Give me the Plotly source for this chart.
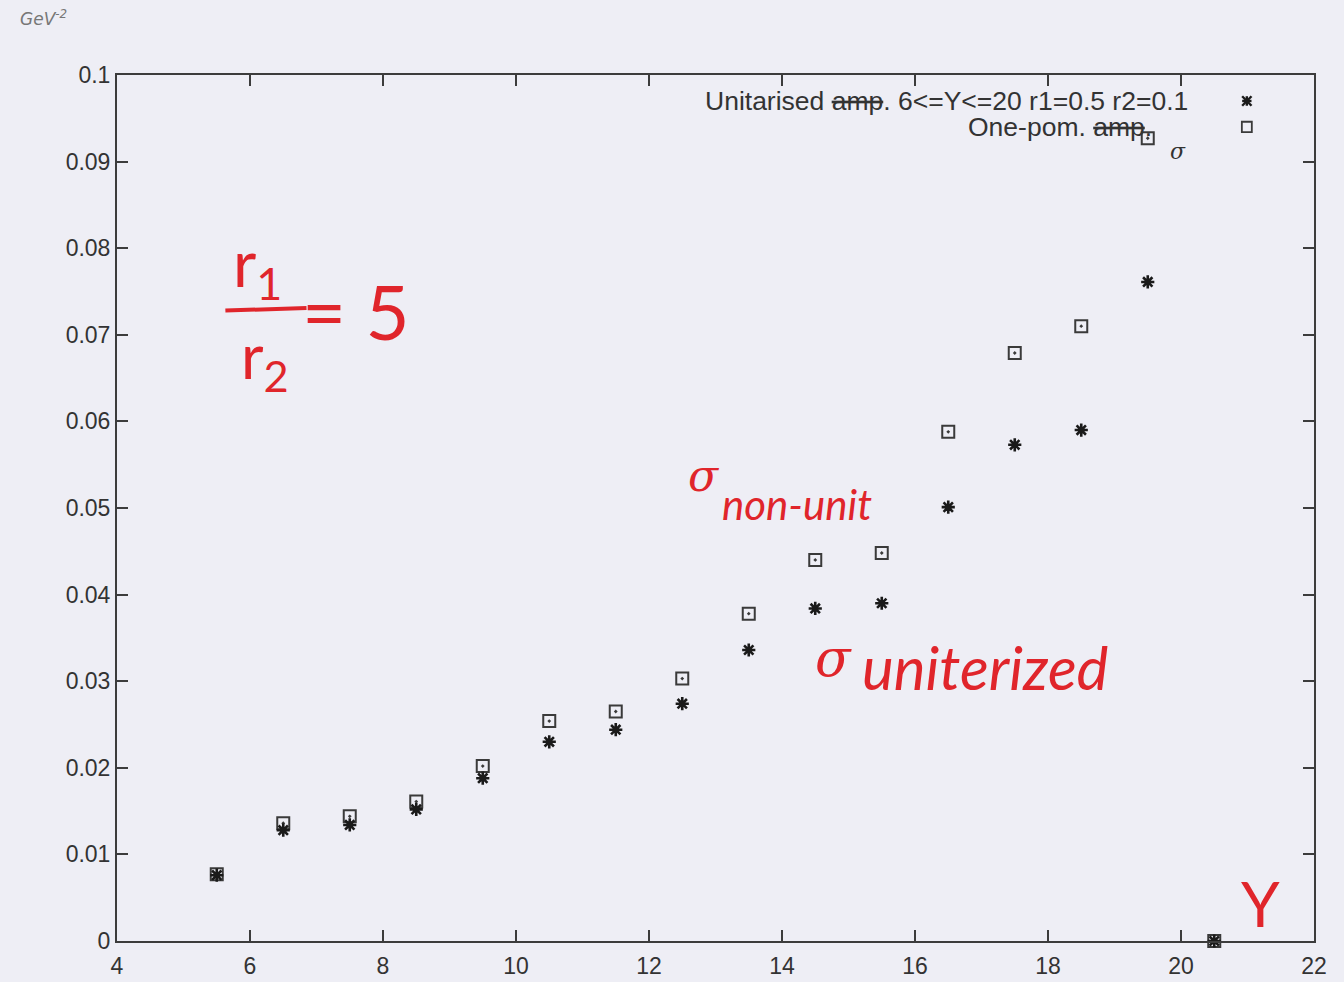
import plotly.graph_objects as go

# ---- data ----
Y_vals = [5.5, 6.5, 7.5, 8.5, 9.5, 10.5, 11.5, 12.5, 13.5, 14.5, 15.5, 16.5, 17.5, 18.5, 19.5, 20.5]
sigma_unitarised = [0.0076, 0.0128, 0.0134, 0.0152, 0.0188, 0.0230, 0.0244, 0.0274,
                    0.0336, 0.0384, 0.0390, 0.0501, 0.0573, 0.0590, 0.0761, 0.0]
sigma_one_pom = [0.0077, 0.0136, 0.0144, 0.0161, 0.0202, 0.0254, 0.0265, 0.0303,
                 0.0378, 0.0440, 0.0448, 0.0588, 0.0679, 0.0710, 0.0927, 0.0]

x_ticks = [4, 6, 8, 10, 12, 14, 16, 18, 20, 22]
y_ticks = [0, 0.01, 0.02, 0.03, 0.04, 0.05, 0.06, 0.07, 0.08, 0.09, 0.1]
y_tick_text = ["0", "0.01", "0.02", "0.03", "0.04", "0.05", "0.06", "0.07", "0.08", "0.09", "0.1"]

legend_unit = "Unitarised <s>amp</s>. 6<=Y<=20 r1=0.5 r2=0.1"
legend_one = "One-pom. <s>amp</s>."

BG = "#eeeef5"
RED = "#e0252b"

fig = go.Figure()
fig.add_trace(go.Scatter(
    x=Y_vals, y=sigma_one_pom, mode="markers", name="One-pom. amp.",
    marker=dict(symbol="square-open-dot", size=12, color="#3a3a3a", line=dict(width=2, color="#3a3a3a")),
    cliponaxis=False, showlegend=False))
fig.add_trace(go.Scatter(
    x=Y_vals, y=sigma_unitarised, mode="markers", name="Unitarised",
    marker=dict(symbol="asterisk-open", size=11, color="#1a1a1a", line=dict(width=2.6, color="#1a1a1a")),
    cliponaxis=False, showlegend=False))

axis_common = dict(showgrid=False, zeroline=False, ticks="inside", mirror="ticks",
                   showline=True, linecolor="#3c3c3c", linewidth=2, tickcolor="#3c3c3c",
                   ticklen=11, tickwidth=1.6, automargin=False,
                   tickfont=dict(family="Liberation Sans, Arial", size=23, color="#333"))
fig.update_xaxes(range=[4, 22], tickvals=x_ticks, ticklabelstandoff=3, **axis_common)
fig.update_yaxes(range=[0, 0.1], tickvals=y_ticks, ticktext=y_tick_text, **axis_common)

annotations = []
# legend texts (right-aligned, symbol on the right like gnuplot)
annotations.append(dict(x=20.13, y=0.0970, xref="x", yref="y", text=legend_unit, showarrow=False,
                        xanchor="right", yanchor="middle",
                        font=dict(family="Liberation Sans, Arial", size=26.5, color="#333")))
annotations.append(dict(x=19.60, y=0.0940, xref="x", yref="y", text=legend_one, showarrow=False,
                        xanchor="right", yanchor="middle",
                        font=dict(family="Liberation Sans, Arial", size=26.5, color="#333")))
# small pen sigmas above/below struck "amp"
annotations.append(dict(x=15.25, y=0.1010, xref="x", yref="y", text="σ", showarrow=False,
                        font=dict(family="DejaVu Serif", size=22, color="#333", style="italic")))
annotations.append(dict(x=19.95, y=0.0912, xref="x", yref="y", text="σ", showarrow=False,
                        font=dict(family="DejaVu Serif", size=22, color="#333", style="italic")))
# units
annotations.append(dict(x=-0.083, y=1.066, xref="paper", yref="paper", text="GeV<sup>-2</sup>",
                        showarrow=False, xanchor="left", yanchor="middle",
                        font=dict(family="DejaVu Sans", size=17, color="#777", style="italic")))
# red handwriting
hand = "Lato, DejaVu Sans"
annotations.append(dict(x=6.12, y=0.0778, xref="x", yref="y", text="r<sub>1</sub>", showarrow=False,
                        font=dict(family=hand, size=64, color=RED)))
annotations.append(dict(x=6.22, y=0.0672, xref="x", yref="y", text="r<sub>2</sub>", showarrow=False,
                        font=dict(family=hand, size=62, color=RED)))
annotations.append(dict(x=7.60, y=0.0728, xref="x", yref="y", text="= 5", showarrow=False,
                        font=dict(family=hand, size=76, color=RED)))
annotations.append(dict(x=12.82, y=0.0537, xref="x", yref="y", text="σ", showarrow=False,
                        font=dict(family="DejaVu Serif", size=44, color=RED, style="italic")))
annotations.append(dict(x=14.22, y=0.0505, xref="x", yref="y", text="non-unit", showarrow=False,
                        font=dict(family=hand, size=42, color=RED, style="italic")))
annotations.append(dict(x=14.78, y=0.0327, xref="x", yref="y", text="σ", showarrow=False,
                        font=dict(family="DejaVu Serif", size=52, color=RED, style="italic")))
annotations.append(dict(x=17.05, y=0.0316, xref="x", yref="y", text="uniterized", showarrow=False,
                        font=dict(family=hand, size=60, color=RED, style="italic")))
annotations.append(dict(x=21.2, y=0.0044, xref="x", yref="y", text="Y", showarrow=False,
                        font=dict(family=hand, size=62, color=RED)))

shapes = []
# fraction bar
shapes.append(dict(type="line", xref="x", yref="y", x0=5.63, y0=0.0728, x1=6.85, y1=0.0731,
                   line=dict(color=RED, width=4)))
# legend symbols
sx, sy1, sy2 = 20.99, 0.0970, 0.0940
dx, dy = 0.07, 0.00055
for (ax, ay, bx, by) in [(-dx, 0, dx, 0), (0, -dy, 0, dy), (-dx, -dy, dx, dy), (-dx, dy, dx, -dy)]:
    shapes.append(dict(type="line", xref="x", yref="y", x0=sx + ax, y0=sy1 + ay, x1=sx + bx, y1=sy1 + by,
                       line=dict(color="#1a1a1a", width=2.4)))
shapes.append(dict(type="rect", xref="x", yref="y", x0=sx - 0.075, y0=sy2 - 0.0006, x1=sx + 0.075, y1=sy2 + 0.0006,
                   line=dict(color="#3a3a3a", width=1.8)))

fig.update_layout(
    width=1344, height=982,
    margin=dict(l=117, r=30, t=75, b=41),
    paper_bgcolor=BG, plot_bgcolor=BG,
    annotations=annotations, shapes=shapes,
    showlegend=False,
)

fig.write_html("out.html", config={"displayModeBar": False},
               post_script="document.body.style.margin='0';document.body.style.background='%s';" % BG)
